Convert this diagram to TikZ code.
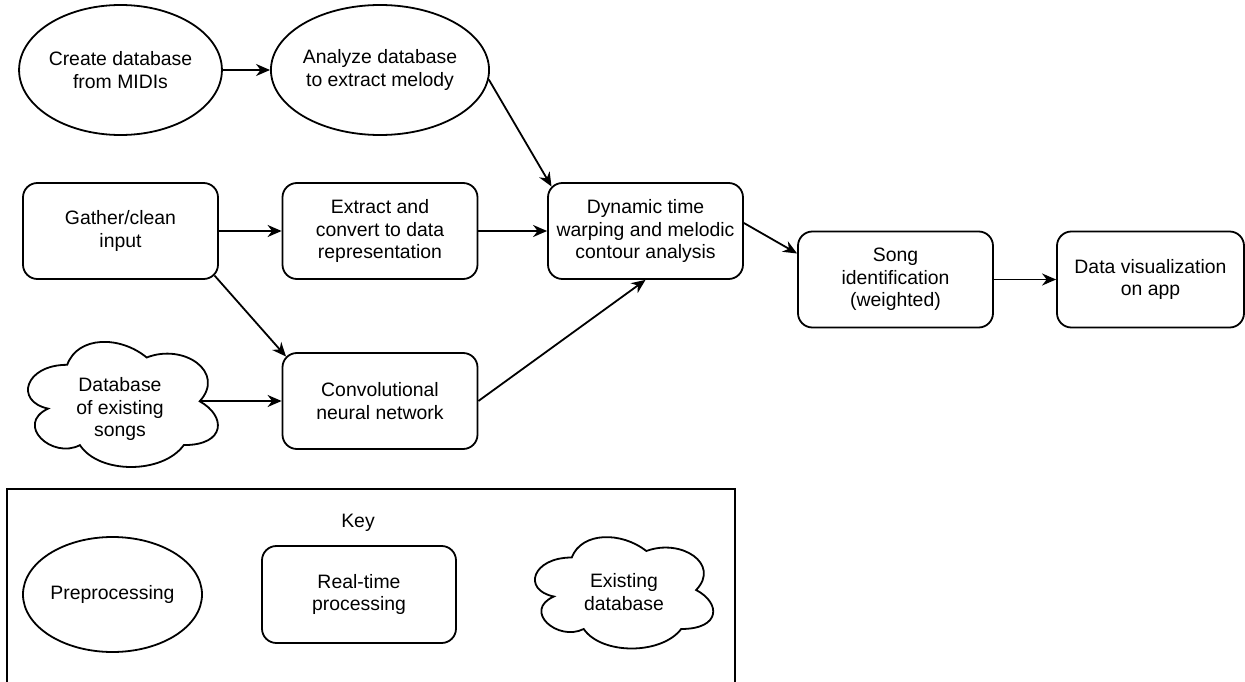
\documentclass[tikz,border=0pt]{standalone}
\usepackage{fontspec}
\setmainfont{Liberation Sans}
\usetikzlibrary{arrows.meta,shapes.geometric,calc}

% cloud outline: #1,#2 = top-left corner of its frame, #3,#4 = frame width and height
\newcommand\drawcloud[4]{%
  \draw[dbline, shift={(#1,#2)}, x=#3pt, y=-#4pt]
    (0.25,0.25) .. controls (0.05,0.25) and (0,0.5) .. (0.16,0.55)
    .. controls (0,0.66) and (0.18,0.9) .. (0.31,0.8)
    .. controls (0.4,1) and (0.7,1) .. (0.8,0.8)
    .. controls (1,0.8) and (1,0.6) .. (0.875,0.5)
    .. controls (1,0.3) and (0.8,0.1) .. (0.625,0.2)
    .. controls (0.5,0.05) and (0.3,0.05) .. (0.25,0.25) -- cycle;}

\begin{document}
\begin{tikzpicture}[x=1pt,y=-1pt,
  every node/.style={font=\fontsize{19.4}{22.5}\selectfont, align=center, inner sep=0pt},
  dbline/.style={line width=1.8pt},
  prep/.style={draw, ellipse, dbline, minimum width=196pt, minimum height=130pt},
  proc/.style={draw, rectangle, rounded corners=14.4pt, dbline, minimum width=195pt, minimum height=96pt},
  link/.style={-{Stealth[length=14pt,width=12pt,inset=4.5pt]}, line width=1.8pt},
]
\fill[white] (0,0) rectangle (1245,682);
\useasboundingbox (0,0) rectangle (1245,682);

% pipeline
\node[prep] (mid) at (120.5,70) {Create database\\from MIDIs};
\node[prep] (mel) at (380,70) {Analyze database\\to extract melody};
\node[proc] (gat) at (120.5,231) {Gather/clean\\input};
\node[proc] (ext) at (380,231) {Extract and\\convert to data\\representation};
\node[proc] (dtw) at (645.5,231) {Dynamic time\\warping and melodic\\contour analysis};
\node[proc] (sid) at (895.5,279.5) {Song\\identification\\(weighted)};
\node[proc, minimum width=187pt] (vis) at (1150.5,279.5) {Data visualization\\on app};
\node[proc] (cnn) at (380,401) {Convolutional\\neural network};

% song database cloud
\drawcloud{14.2}{328.3}{212}{146}
\node (dbs) at (120,409) {Database\\of existing\\songs};
\coordinate (dbsr) at (199.7,401);

% connectors
\draw[link] (mid) -- (mel);
\draw[link] (mel.-5) -- ($(dtw.north west)+(4.4,4.4)$);
\draw[link] (gat) -- (ext);
\draw[link] (ext) -- (dtw);
\draw[link] ($(gat.south east)+(-4.4,-4.4)$) -- ($(cnn.north west)+(4.4,4.4)$);
\draw[link] (dbsr) -- (dbsr -| cnn.west);
\draw[link] (cnn.east) -- (dtw.south);
\draw[link] ($(dtw.east)+(0,-8)$) -- ($(sid.west)+(0,-26)$);
\draw[link] (sid) -- (vis);

% key
\draw[dbline] (7,690) -- (7,489) -- (735,489) -- (735,690);
\node (key) at (358,523) {Key};
\node[prep, minimum width=179pt, minimum height=115pt] (kpre) at (112.5,594.5) {Preprocessing};
\node[proc, minimum width=194pt, minimum height=97pt] (kreal) at (359,594.5) {Real-time\\processing};
\drawcloud{522}{525}{199}{130}
\node (kdb) at (624,592) {Existing\\database};
\end{tikzpicture}
\end{document}
